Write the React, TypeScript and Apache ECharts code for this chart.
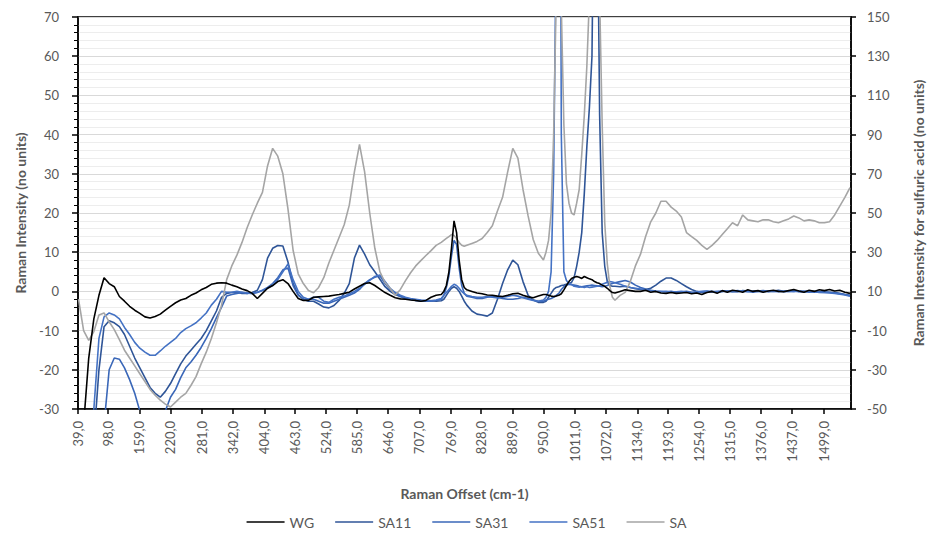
import { useEffect, useRef } from "react";
import * as echarts from "echarts";

// Raman offset sampling positions (cm-1)
const wavenumbers = [
  40, 50, 60, 70, 80, 90, 100, 110, 120, 130,
  140, 150, 160, 170, 180, 190, 200, 210, 220, 230,
  240, 250, 260, 270, 280, 290, 300, 310, 320, 330,
  340, 350, 360, 370, 380, 390, 400, 410, 420, 430,
  440, 450, 460, 470, 480, 490, 500, 510, 520, 530,
  540, 550, 560, 570, 580, 590, 600, 610, 620, 630,
  640, 650, 660, 670, 680, 690, 700, 710, 720, 730,
  740, 750,
  755, 760, 765, 770, 775, 780, 785, 790, 795, 800,
  810, 820, 830, 840, 850, 860, 870, 880, 890, 900, 910, 920, 930, 940, 950,
  955, 960, 965, 970, 975, 980, 985, 990, 995, 1000, 1005, 1010, 1015, 1020, 1025,
  1030, 1035, 1040, 1045, 1050, 1055, 1060, 1065, 1070, 1075, 1080, 1085,
  1090, 1100, 1110, 1120, 1130, 1140, 1150, 1160, 1170, 1180,
  1190, 1200, 1210, 1220, 1230, 1240, 1250, 1260, 1270, 1280,
  1290, 1300, 1310, 1320, 1330, 1340, 1350, 1360, 1370, 1380,
  1390, 1400, 1410, 1420, 1430, 1440, 1450, 1460, 1470, 1480,
  1490, 1500, 1510, 1520, 1530, 1540, 1550,
];

const xTickValues = [
  39, 98, 159, 220, 281, 342, 404, 463, 524, 585, 646, 707, 769, 828, 889,
  950, 1011, 1072, 1134, 1193, 1254, 1315, 1376, 1437, 1499,
];

const seriesNames = ["WG", "SA11", "SA31", "SA51", "SA"];

const wg = [
  -40, -34, -17, -7, -1, 3.5, 2, 1.2, -1.3, -2.5,
  -3.8, -4.8, -5.6, -6.5, -6.8, -6.4, -5.8, -4.8, -3.8, -2.9,
  -2.2, -1.8, -1, -0.4, 0.4, 1, 1.8, 2.1, 2.2, 2.1,
  1.6, 1.2, 0.6, 0.2, -0.5, -1.8, -0.5, 0.8, 1.5, 2.5,
  3, 2, 0, -1.8, -2.3, -2.3, -1.5, -1.4, -1.3, -1.2,
  -1, -0.8, -0.5, -0.2, 0.6, 1.3, 2, 2.2, 1.5, 0.6,
  -0.3, -1, -1.6, -1.9, -2, -2.2, -2.3, -2.5, -2.3, -1.5,
  -1, -0.8,
  0, 1.5, 5, 11, 18, 15, 8, 3, 1, 0.4,
  0, -0.4, -0.6, -0.9, -1, -1.2, -1.3, -1, -0.6, -0.5, -1, -1.4, -1.6, -1.2, -0.8,
  -0.8, -1, -1.2, -1.3, -1.2, -1, -0.6, 0.4, 1.5, 2.5, 3.3, 3.6, 3.8, 3.6, 3.3,
  3.8, 3.5, 3.2, 3, 2.5, 2.2, 2, 1.6, 1.3, 0.8, 0.2, -0.3,
  -0.4, 0, 0.4, 0.2, 0, 0, 0.3, -0.2, 0, -0.4,
  -0.5, -0.3, -0.5, -0.4, -0.3, -0.6, -0.4, -0.8, -0.3, 0,
  -0.5, 0.2, -0.2, 0.3, 0.1, -0.2, 0.4, 0, 0.2, -0.2,
  0.1, 0.3, 0, -0.1, 0.2, 0.5, 0.1, -0.2, 0.3, 0,
  0.4, 0.2, 0.5, 0.1, 0.3, -0.2, -0.5,
];

const sa11 = [
  -40, -40, -40, -38, -20, -9, -7.5, -8, -9, -11,
  -14, -17, -19.5, -22, -24.5, -26, -27, -25.5, -23.5, -21,
  -18.5, -16.5, -15, -13.5, -12, -10, -7.5, -5, -1.5, -0.5,
  -0.3, -0.2, -0.5, -0.5, -0.3, 0.3, 3, 8.5, 11, 11.7,
  11.6, 7.5, 2, -0.8, -2, -2.5, -2.5, -3.2, -4, -4.2,
  -3.6, -2.3, -0.5, 2, 8.5, 11.8, 9.5, 6.8, 5, 3.1,
  1.2, 0, -0.8, -1.3, -1.7, -2, -2.3, -2.5, -2.5, -2.4,
  -2.5, -2.4,
  -2, -1, 0, 0.8, 1.2, 0.8, 0, -1.2, -2.5, -3.5,
  -5, -5.8, -6, -6.3, -5.5, -2, 2, 5.5, 8, 6.8, 2.5, -1, -2.2, -2.8, -2.8,
  -2.5, -1.5, -0.5, 0.5, 1, 1.2, 1.5, 1.6, 1.8, 2, 2.3, 3.5, 6.4, 10, 15,
  25, 37, 47, 60, 120, 110, 45, 15, 6.4, 2.5, 1.5, 1.3,
  1.3, 1.2, 1.3, 1, 0.7, 0.5, 0.5, 0.8, 1.6, 2.6,
  3.4, 3.4, 2.8, 2, 1.2, 0.5, 0, -0.3, -0.2, 0,
  -0.2, 0, 0.1, 0, -0.1, 0.2, 0.1, 0, 0.1, 0.2,
  0, 0.1, 0.3, 0, 0.1, 0.2, 0, -0.1, 0.1, 0,
  -0.1, -0.1, -0.2, -0.3, -0.5, -0.8, -1,
];

const sa31 = [
  -40, -40, -40, -40, -40, -34, -20, -17, -17.3, -19.5,
  -22.5, -26, -30.5, -34, -37, -37, -34, -30.5, -27, -25,
  -22, -19.5, -18, -16.3, -14.3, -12, -9.5, -6.7, -4, -1.2,
  -0.8, -0.5, -0.3, -0.5, -0.4, -0.2, 0.3, 1, 2, 3.5,
  5.5, 6, 1.5, -1, -2, -2, -2, -2.5, -3, -3,
  -2.5, -2, -1.5, -1, -0.4, 0.5, 2, 3, 3.6, 4,
  2, 0.5, -0.5, -1.3, -1.8, -2, -2.3, -2.3, -2.5, -2.5,
  -2.3, -2,
  -1, 1, 4, 9, 13, 12, 6, 1.5, -0.5, -1.2,
  -1.5, -1.8, -1.8, -1.5, -1.3, -1.5, -1.8, -2, -2, -1.8, -1.5, -1.8, -2.2, -2.5, -2.5,
  -2.2, -2, -1.8, -1.5, -1, -0.5, 0.5, 1.2, 1.6, 1.8, 1.7, 1.6, 1.5, 1.3, 1.2,
  1.3, 1.4, 1.5, 1.6, 1.5, 1.4, 1.3, 1.2, 1.3, 1.5, 1.8, 2,
  2.2, 2.5, 2.8, 2.4, 1.6, 1, 0.6, 0.3, 0.1, 0,
  -0.1, 0, -0.2, -0.1, 0, -0.2, -0.3, -0.1, 0, -0.1,
  -0.2, 0, 0.1, -0.1, 0, 0.1, 0, -0.2, 0, 0.1,
  -0.1, 0, 0.1, -0.1, 0, 0.1, -0.1, 0, -0.2, -0.1,
  -0.3, -0.2, -0.3, -0.4, -0.6, -0.8, -1.1,
];

const sa51 = [
  -40, -40, -40, -30, -12, -6.5, -5.5, -6, -7, -9.2,
  -11, -13, -14.5, -15.5, -16.3, -16.3, -15.2, -14, -13, -12,
  -10.5, -9.5, -8.8, -8, -6.8, -5.5, -3.5, -2, 0, -0.2,
  -0.2, 0, -0.2, -0.4, -0.6, -0.3, 0.2, 0.8, 1.5, 3,
  5, 7, 3, 0, -1.5, -2, -1.5, -1.5, -2.5, -2.8,
  -2, -1.5, -1.2, -0.6, 0, 0.8, 1.8, 2.8, 3.8, 4.2,
  2.5, 0.8, -0.3, -1, -1.5, -1.8, -2, -2.2, -2.3, -2.4,
  -2.2, -1.8,
  -1, -0.3, 0.5, 1.3, 1.8, 1.5, 0.8, 0, -0.6, -1,
  -1.3, -1.5, -1.5, -1.3, -1.5, -1.7, -1.5, -1.3, -1, -1.2, -1.6, -2, -2.3, -2.5, -2.2,
  -1.5, 0, 5, 30, 90, 250, 40, 5, 2.8, 2, 1.8, 1.3, 1.2, 1.1, 1.2,
  1, 1.2, 1, 1.1, 1.2, 1.3, 1.5, 1.8, 2.1, 2.3, 2.5, 2.4,
  2.2, 1.8, 1.3, 1, 0.8, 0.6, 0.4, 0.2, 0, -0.1,
  0, -0.2, -0.1, 0, -0.2, -0.3, -0.1, 0, 0.1, -0.1,
  0, 0.1, -0.1, 0, 0.2, 0, -0.1, 0.1, 0, -0.1,
  0.1, 0, -0.1, 0.1, 0, -0.1, 0.1, 0, -0.1, -0.2,
  -0.2, -0.3, -0.4, -0.5, -0.7, -0.9, -1.2,
];

// sulfuric acid, on the secondary (right) axis
const sa = [
  6, -10, -15, -10.5, -2, -1, -5.5, -9.5, -14.6, -20,
  -24, -28, -32, -36, -40, -43, -45.5, -47.5, -49, -46.5,
  -44, -42, -38, -33.5, -27, -21, -14, -6, 3, 16,
  23, 28.5, 35, 42.5, 49, 55, 60.5, 74, 83, 79,
  70, 52, 31, 19, 14, 10.5, 9.3, 12, 17, 24.5,
  31, 37.5, 44, 54, 71, 85, 71, 50, 32, 20,
  14.5, 11.5, 8, 11, 15.5, 19.5, 23, 25.7, 28.3, 30.8,
  33.5, 35,
  36, 37, 38, 39, 38.5, 37, 35, 33.5, 33, 33.5,
  34.5, 35.5, 37, 40, 43.5, 51, 58, 71, 83, 78, 62, 48.5, 36.5, 29.5, 26,
  30, 36, 50, 90, 160, 200, 155, 95, 65, 55, 50, 49, 55, 62, 80,
  100, 125, 160, 200, 220, 200, 160, 95, 45, 24, 12.5, 7,
  5.5, 8, 9.5, 15, 23, 29, 38, 45.5, 50, 56,
  56, 53, 51, 48, 40, 38, 36, 33.5, 31.5, 33.5,
  36, 39, 42, 45, 43.5, 49, 46.5, 46, 45.5, 46.5,
  46.5, 45.5, 45, 46, 47, 48.5, 47.5, 46, 46.5, 46,
  45, 45, 45.5, 49, 53.5, 58, 63,
];

const seriesColors = ["#000000", "#2F5597", "#3A67B8", "#4472C4", "#A5A5A5"];

const FONT = "Lato, 'Open Sans', sans-serif";
const TXT = "#595959";

export default function App() {
  const ref = useRef<HTMLDivElement>(null);

  useEffect(() => {
    if (!ref.current) return;
    const chart = echarts.init(ref.current, null, { renderer: "svg" });
    const toPairs = (ys: number[]) => wavenumbers.map((x, i) => [x, ys[i]]);
    const values = [wg, sa11, sa31, sa51, sa];

    chart.setOption({
      animation: false,
      backgroundColor: "#ffffff",
      textStyle: { fontFamily: FONT },
      grid: {
        left: 78,
        right: 79,
        top: 17,
        bottom: 127,
        show: true,
        borderColor: "#000000",
        borderWidth: 1.5,
        containLabel: false,
      },
      legend: {
        data: seriesNames,
        top: 510,
        left: "center",
        icon: "rect",
        itemWidth: 38,
        itemHeight: 1.5,
        itemGap: 21,
        textStyle: { fontFamily: FONT, fontSize: 14, color: TXT },
      },
      xAxis: {
        type: "value",
        min: 39,
        max: 1552,
        name: "Raman Offset (cm-1)",
        nameLocation: "middle",
        nameGap: 77,
        nameTextStyle: { fontFamily: FONT, fontSize: 14, fontWeight: "bold", color: TXT },
        axisLine: { show: true, onZero: false, lineStyle: { color: "#000000", width: 1.5 } },
        axisTick: {
          show: true,
          length: 5,
          customValues: xTickValues,
          lineStyle: { color: "#000000", width: 1.5 },
        },
        axisLabel: {
          customValues: xTickValues,
          rotate: 90,
          margin: 12,
          fontFamily: FONT,
          fontSize: 13,
          color: TXT,
          formatter: (v: number) => `${v},0`,
        },
        splitLine: { show: false },
      },
      yAxis: [
        {
          type: "value",
          position: "left",
          min: -30,
          max: 70,
          interval: 10,
          name: "Raman Intensity (no units)",
          nameLocation: "middle",
          nameGap: 51,
          nameTextStyle: { fontFamily: FONT, fontSize: 14, fontWeight: "bold", color: TXT },
          axisLine: { show: true, onZero: false, lineStyle: { color: "#000000", width: 1.5 } },
          axisTick: { show: true, length: 6, lineStyle: { color: "#000000", width: 1.5 } },
          minorTick: { show: true, splitNumber: 5, length: 4, lineStyle: { color: "#000000", width: 1 } },
          axisLabel: { margin: 19, fontFamily: FONT, fontSize: 13, color: TXT },
          splitLine: { show: true, lineStyle: { color: "#D9D9D9", width: 1 } },
          minorSplitLine: { show: true, lineStyle: { color: "#EDEDED", width: 1 } },
        },
        {
          type: "value",
          position: "right",
          min: -50,
          max: 150,
          interval: 20,
          name: "Raman Intesnsity for sulfuric acid (no units)",
          nameLocation: "middle",
          nameGap: 60,
          nameTextStyle: { fontFamily: FONT, fontSize: 14, fontWeight: "bold", color: TXT },
          axisLine: { show: true, onZero: false, lineStyle: { color: "#000000", width: 1.5 } },
          axisTick: { show: true, length: 5, lineStyle: { color: "#000000", width: 1.5 } },
          axisLabel: { margin: 16, fontFamily: FONT, fontSize: 13, color: TXT },
          splitLine: { show: false },
        },
      ],
      series: seriesNames.map((name, i) => ({
        name,
        type: "line",
        yAxisIndex: i === 4 ? 1 : 0,
        data: toPairs(values[i]),
        symbol: "none",
        showSymbol: false,
        clip: true,
        lineStyle: { color: seriesColors[i], width: 1.6 },
        itemStyle: { color: seriesColors[i] },
        z: i === 0 ? 3 : 2,
      })),
    });

    return () => chart.dispose();
  }, []);

  return (
    <div
      ref={ref}
      style={{ position: "fixed", left: 0, top: 0, width: 933, height: 536 }}
    />
  );
}
